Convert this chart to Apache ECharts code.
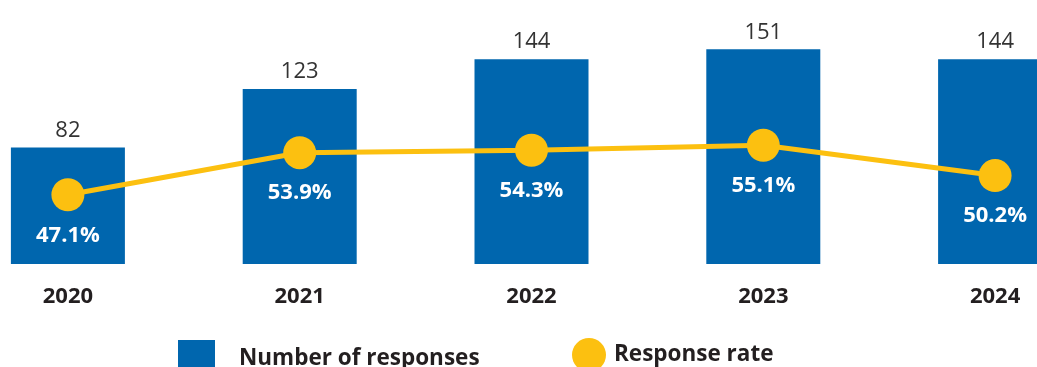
<!DOCTYPE html>
<html>
<head>
<meta charset="utf-8">
<script src="https://cdn.jsdelivr.net/npm/echarts@6/dist/echarts.min.js"></script>
<style>
  html, body { margin: 0; padding: 0; background: #ffffff; overflow: hidden; width: 1037px; height: 367px; }
  /* the plot runs past both edges of the page, so the canvas is wider and shifted left */
  #chart { position: absolute; left: -48px; top: 0; width: 1159px; height: 367px; }
</style>
</head>
<body>
<div id="chart"></div>
<script>
// Survey results by year
const years = ['2020', '2021', '2022', '2023', '2024'];
const responses = [82, 123, 144, 151, 144];
const responseRate = [47.1, 53.9, 54.3, 55.1, 50.2];

const BLUE = '#0066AE';
const YELLOW = '#FCC010';
const FONT = '"Open Sans", "Noto Sans", sans-serif';
const SHIFT = 48; // canvas offset to the left of the page

const chart = echarts.init(document.getElementById('chart'), null, { renderer: 'canvas' });

chart.setOption({
  animation: false,
  backgroundColor: '#ffffff',
  textStyle: { fontFamily: FONT },
  grid: { left: 0, right: 0, top: 8, bottom: 103, containLabel: false },
  legend: [
    {
      data: [{ name: 'Number of responses', icon: 'rect' }],
      left: 178 + SHIFT, top: 340, padding: 0,
      itemWidth: 37, itemHeight: 37,
      textStyle: { fontFamily: FONT, fontSize: 22.5, fontWeight: 'bold', color: '#231f20', padding: [0, 0, 5, 19] }
    },
    {
      data: [{ name: 'Response rate', icon: 'circle' }],
      left: 572 + SHIFT, top: 338, padding: 0,
      itemWidth: 34, itemHeight: 34,
      textStyle: { fontFamily: FONT, fontSize: 22.5, fontWeight: 'bold', color: '#231f20', padding: [0, 0, 0, 3] }
    }
  ],
  xAxis: {
    type: 'category',
    data: years,
    boundaryGap: true,
    axisLine: { show: false },
    axisTick: { show: false },
    axisLabel: { margin: 22, fontFamily: FONT, fontSize: 22, fontWeight: 'bold', color: '#231f20' }
  },
  yAxis: [
    { type: 'value', min: 0, max: 180, show: false, splitLine: { show: false } },
    { type: 'value', min: 35.9, max: 77.3, show: false, splitLine: { show: false } }
  ],
  series: [
    {
      name: 'Number of responses',
      type: 'bar',
      data: responses,
      barWidth: 114,
      itemStyle: { color: BLUE },
      label: {
        show: true, position: 'top', distance: 6,
        fontFamily: FONT, fontSize: 22, color: '#333333'
      },
      z: 1
    },
    {
      name: 'Response rate',
      type: 'line',
      yAxisIndex: 1,
      data: responseRate,
      symbol: 'circle',
      symbolSize: 33,
      lineStyle: { color: YELLOW, width: 5 },
      itemStyle: { color: YELLOW },
      label: {
        show: true, position: 'bottom', distance: 13,
        formatter: p => p.value.toFixed(1) + '%',
        fontFamily: FONT, fontSize: 22, fontWeight: 'bold', color: '#ffffff'
      },
      z: 3
    }
  ]
});
</script>
</body>
</html>
